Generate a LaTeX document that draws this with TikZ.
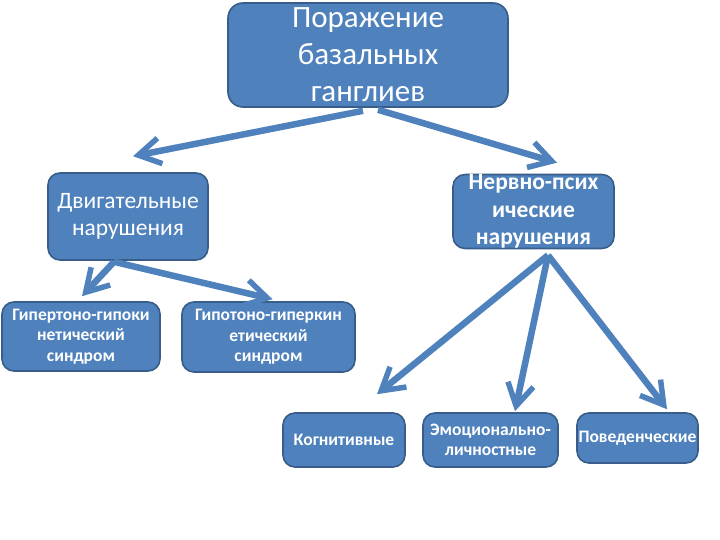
\documentclass[tikz,border=0pt]{standalone}
\usepackage{fontspec}
\setmainfont{Carlito}
\usetikzlibrary{arrows.meta}
\usetikzlibrary{calc}
\definecolor{boxfill}{RGB}{79,129,189}
\definecolor{boxedge}{RGB}{56,93,138}

\begin{document}
\begin{tikzpicture}[x=1pt, y=-1pt,
box/.style={draw=boxedge, fill=boxfill, line width=1.6pt, rounded corners=12pt,
  text=white, align=center, inner sep=0pt},
small/.style={box, font=\bfseries\fontsize{17.5}{20.5}\selectfont},
link/.style={boxfill, line width=6.5pt,
  -{Straight Barb[length=22pt,width=26pt,line width=5.5pt]}}]

\useasboundingbox (0,0) rectangle (720,540);

% MAIN BOX
\node[box, minimum width=280, minimum height=104, rounded corners=15pt,
  font=\fontsize{31}{37}\selectfont] (lesion) at (368,55)
  {Поражение\\базальных\\ганглиев};

% second level
\node[box, minimum width=160, minimum height=87,
  font=\fontsize{23.5}{27}\selectfont] (motor) at (128,216.5)
  {Двигательные\\нарушения};
\node[box, minimum width=161, minimum height=73,
  font=\bfseries\fontsize{23.5}{27.5}\selectfont] (neuro) at (533.5,211.5)
  {Нервно-псих\\ические\\нарушения};

% syndromes
\node[small, minimum width=158, minimum height=69] (hyper) at (81,336.5)
  {Гипертоно-гипоки\\нетический\\синдром};
\node[small, minimum width=173, minimum height=70] (hypo) at (268.5,337)
  {Гипотоно-гиперкин\\етический\\синдром};

% neuro-psychic kinds
\node[small, minimum width=122, minimum height=54] (cogn) at (344,440) {Когнитивные};
\node[small, minimum width=135, minimum height=54] (emo) at (490.5,440)
  {Эмоционально-\\личностные};
\node[small, minimum width=121, minimum height=50] (behav) at (637.5,438) {Поведенческие};

% arrows
\draw[link] ($(lesion.south)+(-5,3)$) -- ($(motor.north)+(5,-16)$);
\draw[link] ($(lesion.south)+(10,2)$) -- ($(neuro.north)+(23.5,-11)$);

\draw[link] ($(motor.south)+(-14,1)$) -- ($(hyper.north)+(1,-5)$);
\draw[link] ($(motor.south)+(-14,1)$) -- ($(hypo.north)+(4,-2)$);

\draw[link] ($(neuro.south)+(14.5,6)$) -- ($(cogn.north)+(33,-18)$);
\draw[link] ($(neuro.south)+(14.5,6)$) -- ($(emo.north)+(24.5,-1)$);
\draw[link] ($(neuro.south)+(14.5,6)$) -- ($(behav.north)+(29.5,-3)$);

\end{tikzpicture}
\end{document}
